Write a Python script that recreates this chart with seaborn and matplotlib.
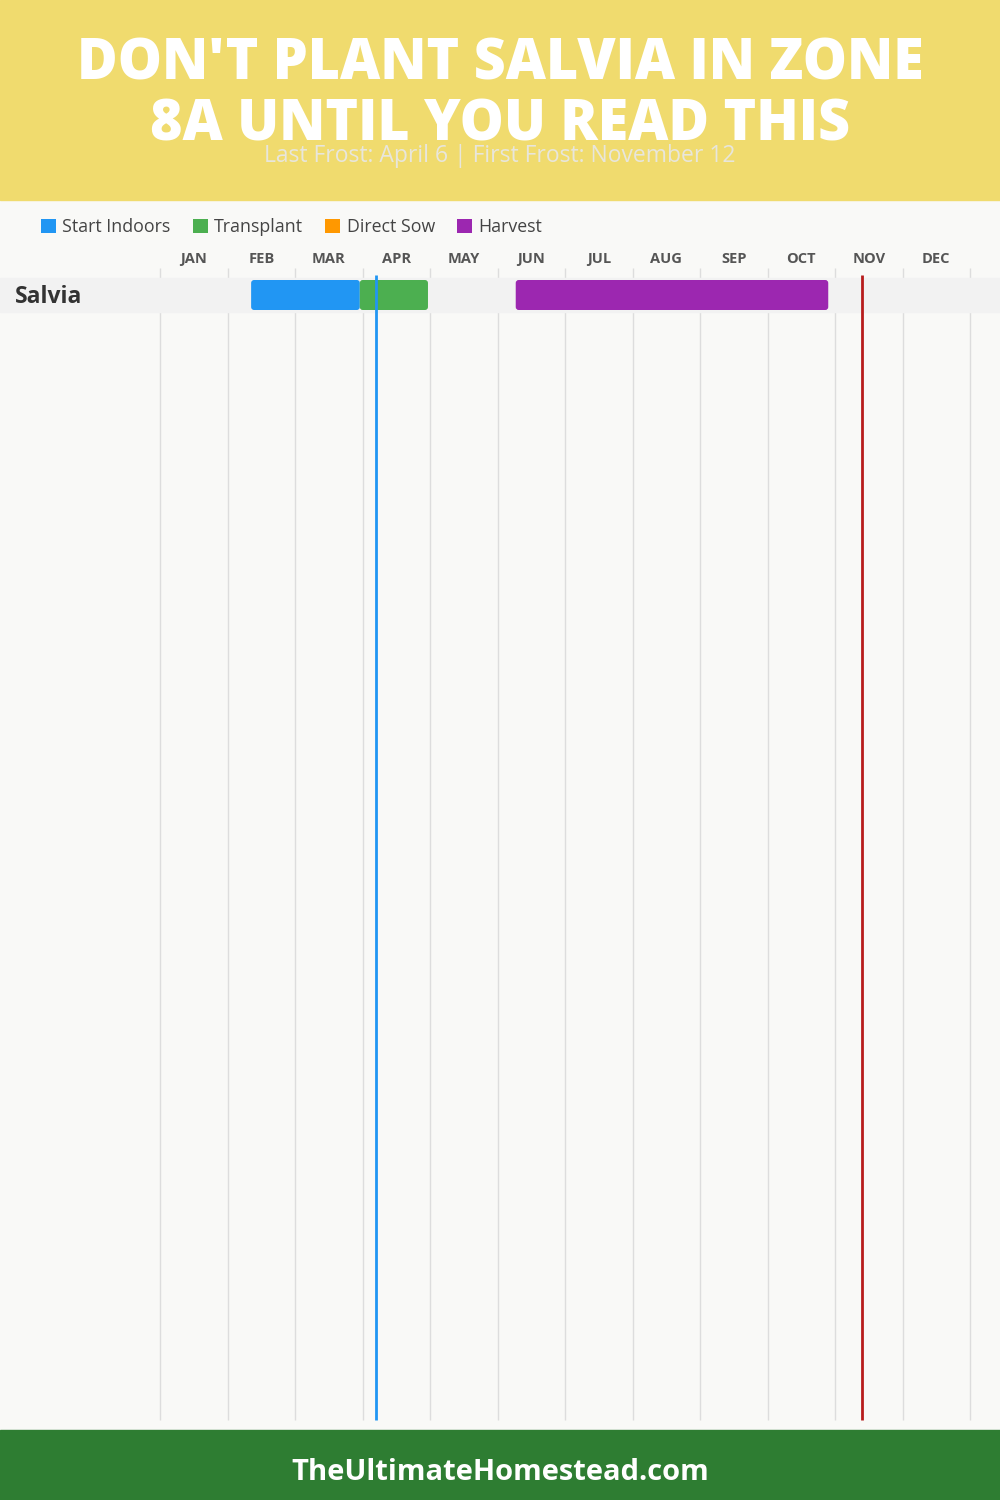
import numpy as np
import pandas as pd
import matplotlib
matplotlib.use('Agg')
import matplotlib.pyplot as plt
import seaborn as sns
from matplotlib.patches import Patch, FancyBboxPatch

sns.set_theme(style="white")
plt.rcParams['font.family'] = ['Open Sans', 'DejaVu Sans']

# data
months = ['JAN', 'FEB', 'MAR', 'APR', 'MAY', 'JUN', 'JUL', 'AUG', 'SEP', 'OCT', 'NOV', 'DEC']
phases = ['Start Indoors', 'Transplant', 'Direct Sow', 'Harvest']
phase_colors = ['#2196F3', '#4CAF50', '#FF9800', '#9C27B0']
crops = ['Salvia']
task_crop = ['Salvia', 'Salvia', 'Salvia']
task_phase = ['Start Indoors', 'Transplant', 'Harvest']
task_start = [1.35, 2.96, 5.27]   # months from Jan 1
task_end = [2.96, 3.97, 9.90]
last_frost = 3.20    # April 6
first_frost = 10.40  # November 12

tasks = pd.DataFrame({'crop': task_crop, 'phase': task_phase,
                      'start': task_start, 'end': task_end})
color_map = dict(zip(phases, phase_colors))

# layout (pixels)
W, H = 1000, 1500
x0, mw = 160, 67.5          # left edge of JAN, month width
grid_top, grid_bot = 268, 1420
row_top, row_h = 278, 34
xc = (500 - x0) / mw        # horizontal centre of the page in data units

fig = plt.figure(figsize=(10, 15), dpi=100, facecolor='#F9F9F7')
ax = fig.add_axes([0, 0, 1, 1])
ax.set_facecolor('#F9F9F7')
ax.set_xlim(-x0 / mw, (W - x0) / mw)
ax.set_ylim(H, 0)
ax.axis('off')

# header / footer bands
ax.axhspan(0, 200, color='#F0DB6E', zorder=0)
ax.axhspan(1430, H, color='#2E7D32', zorder=0)

ax.text(xc, 65, "DON'T PLANT SALVIA IN ZONE", ha='center', va='center',
        color='white', fontsize=40, fontweight='heavy')
ax.text(xc, 126, "8A UNTIL YOU READ THIS", ha='center', va='center',
        color='white', fontsize=40, fontweight='heavy')
ax.text(xc, 156, "Last Frost: April 6 | First Frost: November 12", ha='center',
        va='center', color='#E8E6DC', fontsize=16.5)
ax.text(xc, 1472, "TheUltimateHomestead.com", ha='center', va='center',
        color='white', fontsize=21, fontweight='bold')

# month grid + labels
ax.vlines(np.arange(13), grid_top, grid_bot, color='#DDDDDD', lw=1, zorder=1)
for i, m in enumerate(months):
    ax.text(i + 0.5, 259, m, ha='center', va='center', fontsize=10.5,
            fontweight='bold', color='#555555')

# crop rows
for r, crop in enumerate(crops):
    yc = row_top + row_h / 2 + r * row_h
    ax.axhspan(yc - row_h / 2, yc + row_h / 2, color='#F2F2F2', zorder=2)
    ax.text((15 - x0) / mw, yc + 2, crop, ha='left', va='center', fontsize=16.5,
            fontweight='bold', color='#333333', zorder=5)
    sub = tasks[tasks['crop'] == crop]
    bars = ax.barh([yc] * len(sub), sub['end'] - sub['start'], left=sub['start'],
                   height=30, color=[color_map[p] for p in sub['phase']], zorder=3)
    # round the bar corners
    for b in bars:
        b.set_visible(False)
        ax.add_patch(FancyBboxPatch((b.get_x(), b.get_y()), b.get_width(), b.get_height(),
                                    boxstyle='round,pad=0,rounding_size=0.045',
                                    mutation_aspect=3 / 0.045, fc=b.get_facecolor(),
                                    ec='none', zorder=3))

# frost lines
ax.vlines(last_frost, 275, grid_bot, color='#2196F3', lw=2, zorder=4)
ax.vlines(first_frost, 275, grid_bot, color='#B71C1C', lw=2, zorder=4)

# legend
handles = [Patch(facecolor=c, edgecolor='none', label=p) for p, c in zip(phases, phase_colors)]
fig.legend(handles=handles, loc='center left', bbox_to_anchor=(25 / W, 1 - 227 / H),
           ncol=4, frameon=False, fontsize=12.8, handlelength=0.85, handleheight=0.85,
           handletextpad=0.35, columnspacing=1.25, labelcolor='#444444')

fig.savefig('out.png', dpi=100, facecolor=fig.get_facecolor())
